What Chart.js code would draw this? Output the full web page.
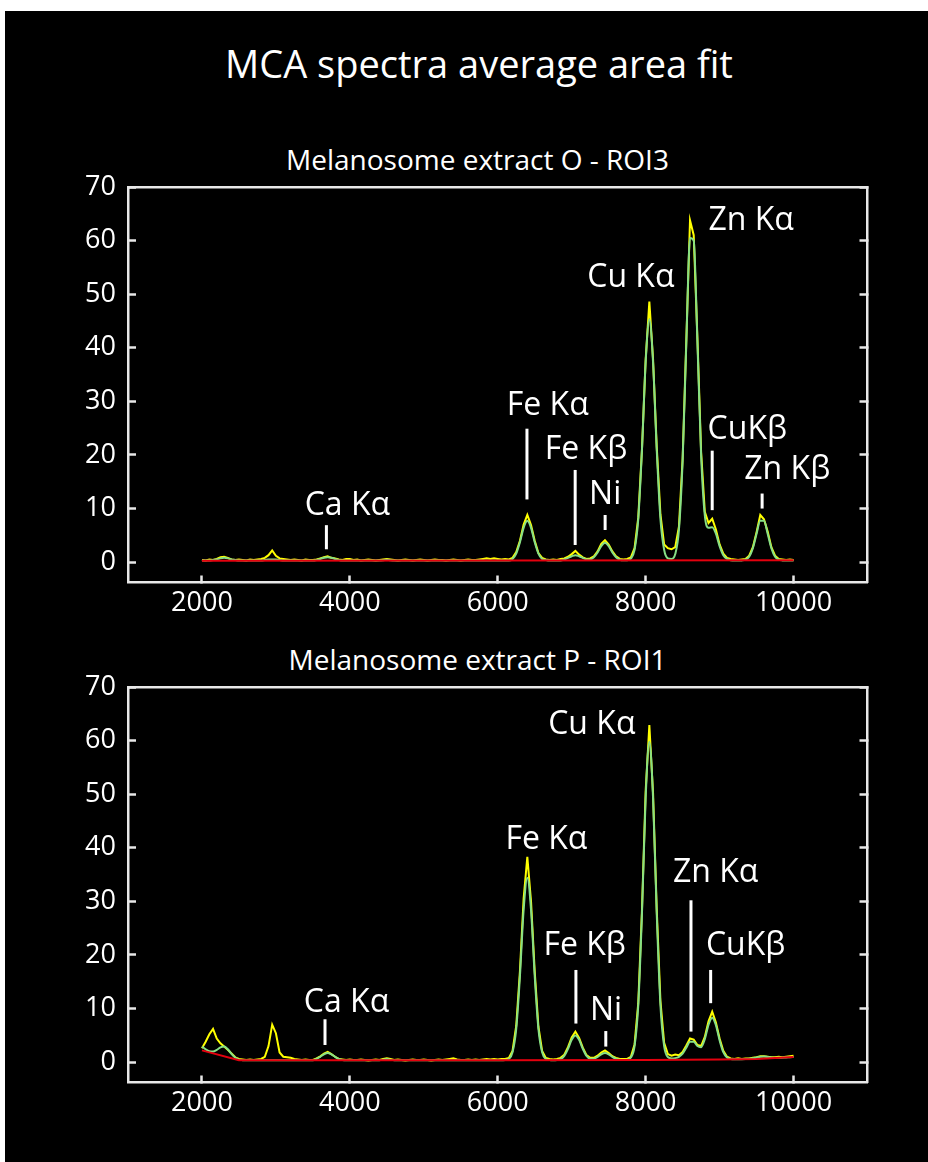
<!DOCTYPE html>
<html>
<head>
<meta charset="utf-8">
<script src="https://cdn.jsdelivr.net/npm/chart.js@4.4.1/dist/chart.umd.min.js"></script>
<style>
html,body{margin:0;padding:0;background:#fff;}
body{width:928px;height:1162px;position:relative;overflow:hidden;font-family:'Open Sans',sans-serif;}
#panel{position:absolute;left:5px;top:11px;right:0;bottom:0;background:#000;}
.t{position:absolute;color:#fff;white-space:nowrap;transform:translateX(-50%);line-height:1;}
canvas{position:absolute;left:0;}
</style>
</head>
<body>
<div id="panel"></div>
<div class="t" style="left:479px;top:44px;font-size:38px;">MCA spectra average area fit</div>
<div class="t" style="left:477.5px;top:145px;font-size:28px;">Melanosome extract O - ROI3</div>
<div class="t" style="left:477.5px;top:645px;font-size:28px;">Melanosome extract P - ROI1</div>
<canvas id="c1" width="928" height="460" style="top:170px"></canvas>
<canvas id="c2" width="928" height="460" style="top:670px"></canvas>
<script>
// ---------- data ----------
const energyStart = 2000;      // eV, first MCA channel shown
const energyStep = 50;         // eV per channel
const xTickValues = [2000, 4000, 6000, 8000, 10000];
const yTickValues = [0, 10, 20, 30, 40, 50, 60, 70];

// Melanosome extract O - ROI3
const roi3Data = [
  0.4,0.3,0.5,0.4,0.6,0.9,1.0,0.8,0.5,0.4,
  0.5,0.4,0.3,0.5,0.4,0.5,0.6,0.8,1.3,2.2,
  1.2,0.7,0.6,0.5,0.4,0.5,0.4,0.3,0.5,0.4,
  0.4,0.5,0.7,0.9,1.1,0.8,0.7,0.5,0.4,0.6,
  0.6,0.4,0.5,0.3,0.4,0.5,0.4,0.3,0.4,0.5,
  0.6,0.5,0.4,0.3,0.4,0.5,0.4,0.3,0.4,0.5,
  0.4,0.3,0.4,0.5,0.4,0.4,0.3,0.4,0.5,0.4,
  0.3,0.4,0.5,0.4,0.4,0.5,0.6,0.7,0.6,0.7,
  0.6,0.5,0.6,0.5,0.8,1.9,4.0,7.0,8.8,6.9,
  4.0,1.7,0.8,0.5,0.4,0.5,0.4,0.6,0.7,1.0,
  1.5,2.1,1.4,0.9,0.6,0.7,1.1,2.0,3.4,4.1,
  3.3,2.0,1.1,0.6,0.5,0.6,0.9,2.6,8.3,21.0,
  37.8,48.6,37.9,21.5,8.9,3.3,2.6,2.4,2.8,6.6,
  19.3,41.5,63.8,61.0,41.8,20.6,9.4,7.3,8.1,6.1,
  3.3,1.6,0.8,0.6,0.5,0.4,0.5,0.6,1.2,2.8,
  5.6,8.8,8.0,5.7,2.8,1.2,0.6,0.5,0.4,0.5,
  0.4
];
const roi3Fit = [
  0.3,0.3,0.3,0.4,0.5,0.7,0.8,0.7,0.5,0.4,
  0.3,0.3,0.3,0.3,0.3,0.3,0.3,0.4,0.5,0.5,
  0.5,0.4,0.3,0.3,0.3,0.3,0.3,0.3,0.3,0.3,
  0.3,0.4,0.6,0.8,0.9,0.8,0.6,0.4,0.3,0.3,
  0.3,0.3,0.3,0.3,0.3,0.3,0.3,0.3,0.3,0.35,
  0.45,0.35,0.3,0.3,0.3,0.3,0.3,0.3,0.3,0.3,
  0.3,0.3,0.3,0.3,0.3,0.3,0.3,0.3,0.3,0.3,
  0.3,0.3,0.3,0.3,0.3,0.3,0.3,0.3,0.3,0.3,
  0.3,0.3,0.3,0.3,0.6,1.6,3.7,6.4,7.7,6.4,
  3.7,1.6,0.6,0.4,0.3,0.3,0.3,0.3,0.5,0.8,
  1.1,1.3,1.1,0.8,0.5,0.5,0.9,1.8,3.0,3.6,
  3.0,1.8,0.9,0.45,0.35,0.35,0.65,2.3,8.0,20.9,
  37.3,45.3,37.3,20.9,8.0,2.3,0.7,0.6,1.5,6.0,
  18.9,40.9,60.5,60.0,41.1,19.9,8.7,6.4,6.5,5.3,
  3.0,1.3,0.6,0.35,0.3,0.3,0.32,0.45,1.0,2.6,
  5.3,7.7,7.7,5.3,2.6,1.0,0.45,0.32,0.3,0.3,
  0.3
];
const roi3BgEnergy = [2000, 6000, 10000];
const roi3Bg = [0.25, 0.3, 0.35];

// Melanosome extract P - ROI1
const roi1Data = [
  2.6,3.8,5.2,6.2,4.4,3.5,2.9,2.3,1.6,0.9,
  0.6,0.5,0.4,0.5,0.4,0.5,0.6,1.0,3.0,7.0,
  5.4,1.8,1.0,0.9,0.8,0.6,0.5,0.4,0.5,0.4,
  0.4,0.7,1.1,1.6,1.9,1.5,1.0,0.6,0.5,0.4,
  0.5,0.4,0.4,0.5,0.4,0.3,0.4,0.5,0.4,0.6,
  0.7,0.6,0.4,0.5,0.4,0.3,0.4,0.5,0.4,0.4,
  0.5,0.4,0.3,0.4,0.5,0.4,0.5,0.6,0.7,0.5,
  0.4,0.4,0.5,0.4,0.5,0.4,0.5,0.6,0.5,0.6,
  0.5,0.6,0.6,0.8,2.1,6.8,17.0,30.5,38.3,30.0,
  16.9,6.6,2.1,0.8,0.6,0.5,0.6,0.8,1.4,2.8,
  4.6,5.7,4.5,2.7,1.3,0.8,0.8,1.2,1.8,2.2,
  1.7,1.1,0.8,0.6,0.6,0.6,1.0,3.3,11.0,28.3,
  50.6,62.9,50.2,28.5,11.4,3.6,1.5,1.2,1.4,1.3,
  1.9,3.1,4.4,4.2,3.2,3.0,4.7,7.6,9.4,7.4,
  4.4,2.1,1.0,0.7,0.6,0.7,0.6,0.7,0.7,0.8,
  0.9,1.1,1.1,1.0,0.9,0.9,1.0,0.9,1.0,1.1,
  1.2
];
const roi1Fit = [
  2.9,2.4,2.05,2.0,2.3,2.75,2.9,2.4,1.55,0.85,
  0.45,0.37,0.35,0.35,0.35,0.35,0.35,0.35,0.35,0.35,
  0.35,0.35,0.35,0.35,0.35,0.35,0.35,0.35,0.35,0.35,
  0.35,0.6,1.0,1.45,1.7,1.45,1.0,0.6,0.4,0.35,
  0.35,0.35,0.35,0.35,0.35,0.35,0.35,0.35,0.35,0.45,
  0.6,0.45,0.35,0.35,0.35,0.35,0.35,0.35,0.35,0.35,
  0.35,0.35,0.35,0.35,0.35,0.35,0.35,0.35,0.35,0.35,
  0.35,0.35,0.35,0.35,0.35,0.35,0.35,0.35,0.35,0.35,
  0.35,0.35,0.4,0.6,1.85,6.2,16.0,28.4,34.4,28.4,
  16.0,6.2,1.85,0.6,0.4,0.37,0.4,0.57,1.16,2.48,
  4.17,4.98,4.17,2.49,1.18,0.64,0.64,0.99,1.46,1.69,
  1.46,0.99,0.61,0.45,0.41,0.45,0.85,3.0,10.6,27.6,
  49.3,59.8,49.3,27.6,10.6,3.0,0.95,0.7,0.75,1.0,
  1.6,2.7,3.8,3.8,3.0,2.8,4.3,6.96,8.3,6.9,
  4.07,1.85,0.86,0.59,0.55,0.55,0.56,0.58,0.62,0.71,
  0.86,1.02,1.05,0.97,0.86,0.82,0.82,0.85,0.88,0.92,
  0.95
];
const roi1BgEnergy = [2000, 2500, 6000, 8000, 9000, 9500, 10000];
const roi1Bg = [2.2, 0.35, 0.35, 0.4, 0.5, 0.6, 0.95];

// peak labels (text position and marker line in data units)
const roi3Peaks = [
  {text:'Ca Kα', textE:3966, textY:8.8,  markE:3683, markTop:6.9,  markBottom:2.4},
  {text:'Fe Kα', textE:6676, textY:27.4, markE:6395, markTop:24.9, markBottom:11.7},
  {text:'Fe Kβ', textE:7193, textY:19.2, markE:7047, markTop:17.2, markBottom:3.2},
  {text:'Ni',    textE:7452, textY:10.9, markE:7452, markTop:8.8,  markBottom:6.0},
  {text:'Cu Kα', textE:7800, textY:51.3},
  {text:'Zn Kα', textE:9426, textY:61.9},
  {text:'CuKβ',  textE:9375, textY:23.0, markE:8900, markTop:20.8, markBottom:9.7},
  {text:'Zn Kβ', textE:9915, textY:15.5, markE:9575, markTop:12.8, markBottom:10.0}
];
const roi1Peaks = [
  {text:'Ca Kα', textE:3955, textY:9.3,  markE:3664, markTop:8.0,  markBottom:3.2},
  {text:'Fe Kα', textE:6658, textY:39.8},
  {text:'Fe Kβ', textE:7175, textY:19.9, markE:7057, markTop:17.2, markBottom:7.2},
  {text:'Ni',    textE:7465, textY:7.8,  markE:7461, markTop:5.8,  markBottom:2.9},
  {text:'Cu Kα', textE:7272, textY:61.3},
  {text:'Zn Kα', textE:8947, textY:33.6, markE:8613, markTop:30.2, markBottom:5.7},
  {text:'CuKβ',  textE:9352, textY:19.9, markE:8879, markTop:17.2, markBottom:11.0}
];

// ---------- chart ----------
const AXIS = '#e8e8e8';
const toXY = (vals) => vals.map((v, i) => ({x: energyStart + i * energyStep, y: v}));
const pairXY = (es, vs) => es.map((e, i) => ({x: e, y: vs[i]}));

function peakLabelPlugin(items) {
  return {
    id: 'peakLabels',
    afterDatasetsDraw(chart) {
      const ctx = chart.ctx, xs = chart.scales.x, ys = chart.scales.y;
      ctx.save();
      ctx.fillStyle = '#fff';
      ctx.strokeStyle = '#fff';
      ctx.lineWidth = 3;
      ctx.font = '32px "Open Sans"';
      ctx.textAlign = 'center';
      ctx.textBaseline = 'alphabetic';
      for (const it of items) {
        ctx.fillText(it.text, xs.getPixelForValue(it.textE), ys.getPixelForValue(it.textY));
        if (it.markE !== undefined) {
          const px = xs.getPixelForValue(it.markE);
          ctx.beginPath();
          ctx.moveTo(px, ys.getPixelForValue(it.markTop));
          ctx.lineTo(px, ys.getPixelForValue(it.markBottom));
          ctx.stroke();
        }
      }
      ctx.restore();
    }
  };
}

function setTicks(values) {
  return (s) => { s.ticks = values.map(v => ({value: v})); };
}

function makeChart(id, dataVals, fitVals, bgE, bgVals, peaks) {
  const tickFont = {family: 'Open Sans', size: 27};
  return new Chart(document.getElementById(id), {
    type: 'line',
    data: {
      datasets: [
        {data: pairXY(bgE, bgVals), borderColor: '#e3000e', borderWidth: 2, pointRadius: 0, tension: 0, order: 0},
        {data: toXY(fitVals), borderColor: '#86df86', borderWidth: 2, pointRadius: 0, cubicInterpolationMode: 'monotone', order: 1},
        {data: toXY(dataVals), borderColor: '#ffff00', borderWidth: 2, pointRadius: 0, tension: 0, order: 2}
      ]
    },
    options: {
      responsive: false,
      animation: false,
      devicePixelRatio: 1,
      layout: {padding: 0},
      plugins: {legend: {display: false}, tooltip: {enabled: false}, title: {display: false}},
      scales: {
        x: {
          type: 'linear', position: 'bottom', min: 1000, max: 11000,
          afterBuildTicks: setTicks(xTickValues),
          afterFit: (s) => { s.height = 47.5; s.paddingLeft = 0; s.paddingRight = 0; },
          grid: {drawOnChartArea: false, drawTicks: true, tickLength: -7, tickWidth: 2.5, tickColor: AXIS},
          border: {display: true, color: AXIS, width: 2.5},
          ticks: {color: '#fff', font: tickFont, padding: 12, autoSkip: false, maxRotation: 0, callback: (v) => String(v)}
        },
        xTop: {
          type: 'linear', position: 'top', min: 1000, max: 11000,
          afterFit: (s) => { s.height = 17; s.paddingLeft = 0; s.paddingRight = 0; },
          grid: {drawOnChartArea: false, drawTicks: false},
          border: {display: true, color: AXIS, width: 2.5},
          ticks: {display: false}
        },
        y: {
          type: 'linear', position: 'left', min: -3.8, max: 70,
          afterBuildTicks: setTicks(yTickValues),
          afterFit: (s) => { s.width = 128; s.paddingTop = 0; s.paddingBottom = 0; },
          grid: {drawOnChartArea: false, drawTicks: true, tickLength: -8, tickWidth: 2.5, tickColor: AXIS},
          border: {display: true, color: AXIS, width: 2.5},
          ticks: {color: '#fff', font: tickFont, padding: 20, callback: (v) => String(v)}
        },
        yRight: {
          type: 'linear', position: 'right', min: -3.8, max: 70,
          afterBuildTicks: setTicks(yTickValues),
          afterFit: (s) => { s.width = 60.5; s.paddingTop = 0; s.paddingBottom = 0; },
          grid: {drawOnChartArea: false, drawTicks: true, tickLength: -8, tickWidth: 2.5, tickColor: AXIS},
          border: {display: true, color: AXIS, width: 2.5},
          ticks: {display: false}
        }
      }
    },
    plugins: [peakLabelPlugin(peaks)]
  });
}

function build() {
  makeChart('c1', roi3Data, roi3Fit, roi3BgEnergy, roi3Bg, roi3Peaks);
  makeChart('c2', roi1Data, roi1Fit, roi1BgEnergy, roi1Bg, roi1Peaks);
}
if (document.fonts && document.fonts.load) {
  Promise.all([document.fonts.load('27px "Open Sans"'), document.fonts.load('32px "Open Sans"')]).then(build, build);
} else { build(); }
</script>
</body>
</html>
